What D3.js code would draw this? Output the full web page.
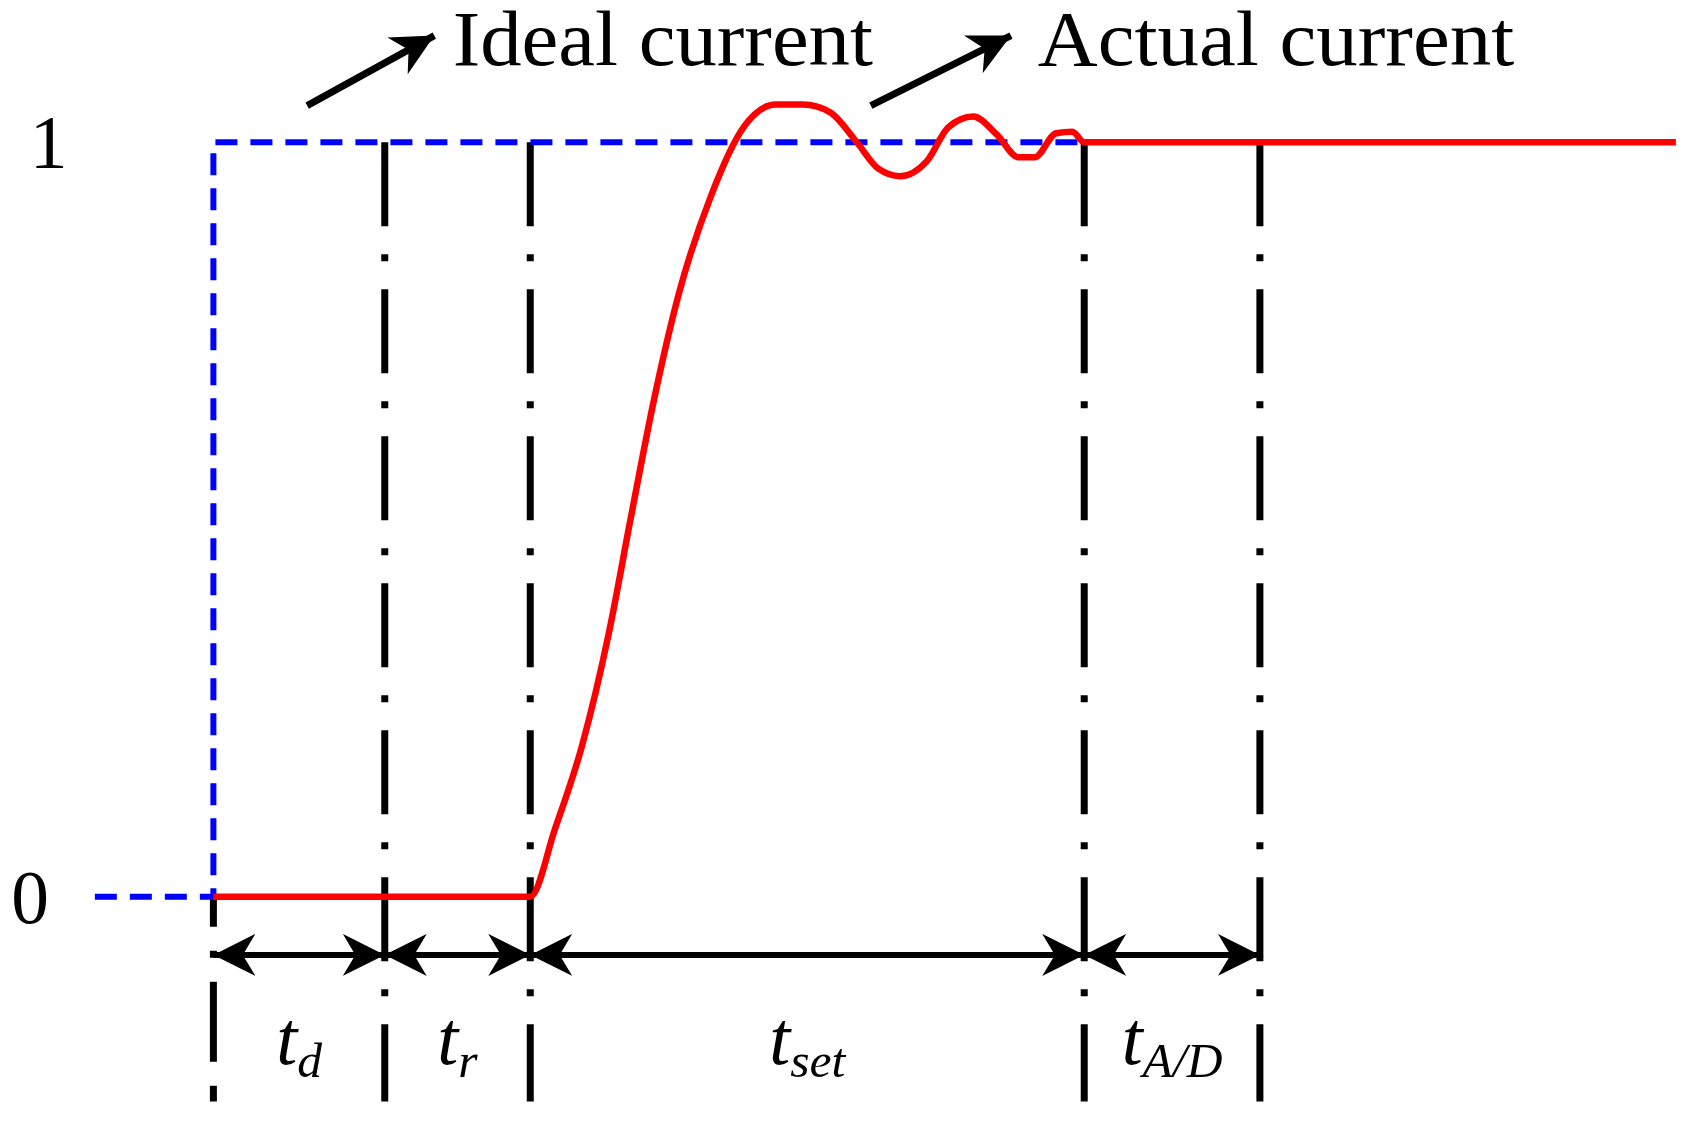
<!DOCTYPE html><html><head><meta charset="utf-8">
<script src="https://cdn.jsdelivr.net/npm/d3@7"></script>
<style>body{margin:0;background:#fff}text{font-family:"Liberation Serif","Times New Roman",serif}</style></head><body>
<script>
// time in arbitrary units, value normalized
const markers = [198, 357, 492, 1006, 1169];
const intervalLabels = [["t","d"],["t","r"],["t","set"],["t","A/D"]];
const yTicks = [0, 1];
const idealT = [88, 198, 198, 1006];
const idealV = [0, 0, 1, 1];
const actualT = [198, 492, 515, 540, 565, 585, 607, 630, 660, 690, 720, 745, 770, 795, 815, 835, 860, 880, 903, 925, 945, 960, 980, 995, 1006, 1555];
const actualV = [0, 0, 0.09, 0.2, 0.35, 0.5, 0.66, 0.8, 0.93, 1.02, 1.05, 1.05, 1.04, 1.0, 0.965, 0.955, 0.975, 1.02, 1.034, 1.01, 0.98, 0.98, 1.012, 1.014, 1.0, 1.0];
const labels = ["Ideal current", "Actual current"];

const W=1691,H=1131, k=1691/1569;
const svg=d3.select("body").append("svg").attr("width",W).attr("height",H);
const x=d3.scaleLinear().domain([0,1569]).range([0,1569*k]);
const y=d3.scaleLinear().domain([0,1]).range([832*k,132*k]);
const py=v=>v*k;
const defs=svg.append("defs");
defs.append("marker").attr("id","ah").attr("viewBox","0 0 10 10").attr("refX",10).attr("refY",5)
 .attr("markerWidth",42).attr("markerHeight",42).attr("markerUnits","userSpaceOnUse").attr("orient","auto-start-reverse")
 .append("path").attr("d","M0,0L10,5L0,10L3,5Z").attr("fill","#000");

// vertical markers
markers.forEach((m,i)=>{
  const y0 = i===0 ? y(0) : y(1);
  svg.append("line").attr("x1",x(m)).attr("x2",x(m)).attr("y1",y0).attr("y2",py(1022))
   .attr("stroke","#000").attr("stroke-width",7)
   .attr("stroke-dasharray", i===0? "30,24,7,24,80,24":"84,28,7,28");
});
// ideal
const line=d3.line().x(d=>x(d[0])).y(d=>y(d[1]));
svg.append("path").attr("d",line(idealT.map((t,i)=>[t,idealV[i]]))).attr("fill","none")
 .attr("stroke","#0000ff").attr("stroke-width",6).attr("stroke-dasharray","22,13");
// actual
svg.append("path").attr("d",d3.line().x(d=>x(d[0])).y(d=>y(d[1])).curve(d3.curveMonotoneX)(actualT.map((t,i)=>[t,actualV[i]])))
 .attr("fill","none").attr("stroke","#ff0000").attr("stroke-width",6.5);
// y labels
svg.selectAll(".yt").data(yTicks).enter().append("text").attr("x",d=>d?x(45):x(28)).attr("y",d=>y(d)+py(24))
 .attr("text-anchor","middle").attr("font-size",py(70)).text(d=>d);
// interval arrows
for(let i=0;i<4;i++){
  svg.append("line").attr("x1",x(markers[i])).attr("x2",x(markers[i+1])).attr("y1",py(886)).attr("y2",py(886))
   .attr("stroke","#000").attr("stroke-width",6).attr("marker-start","url(#ah)").attr("marker-end","url(#ah)");
  const t=svg.append("text").attr("x",x((markers[i]+markers[i+1])/2)).attr("y",py(987)).attr("text-anchor","middle")
   .attr("font-style","italic").attr("font-size",py(70));
  t.append("tspan").text(intervalLabels[i][0]);
  t.append("tspan").attr("font-size",py(46)).attr("dy",py(12)).text(intervalLabels[i][1]);
}
// annotations
const ann=[[285,98,403,33,420],[808,98,938,33,963]];
ann.forEach((a,i)=>{
  svg.append("line").attr("x1",x(a[0])).attr("y1",py(a[1])).attr("x2",x(a[2])).attr("y2",py(a[3]))
   .attr("stroke","#000").attr("stroke-width",7).attr("marker-end","url(#ah)");
  svg.append("text").attr("x",x(a[4])).attr("y",py(60)).attr("font-size",py(72)).attr("textLength",x(i?442:390)).attr("lengthAdjust","spacingAndGlyphs").text(labels[i]);
});
</script></body></html>
